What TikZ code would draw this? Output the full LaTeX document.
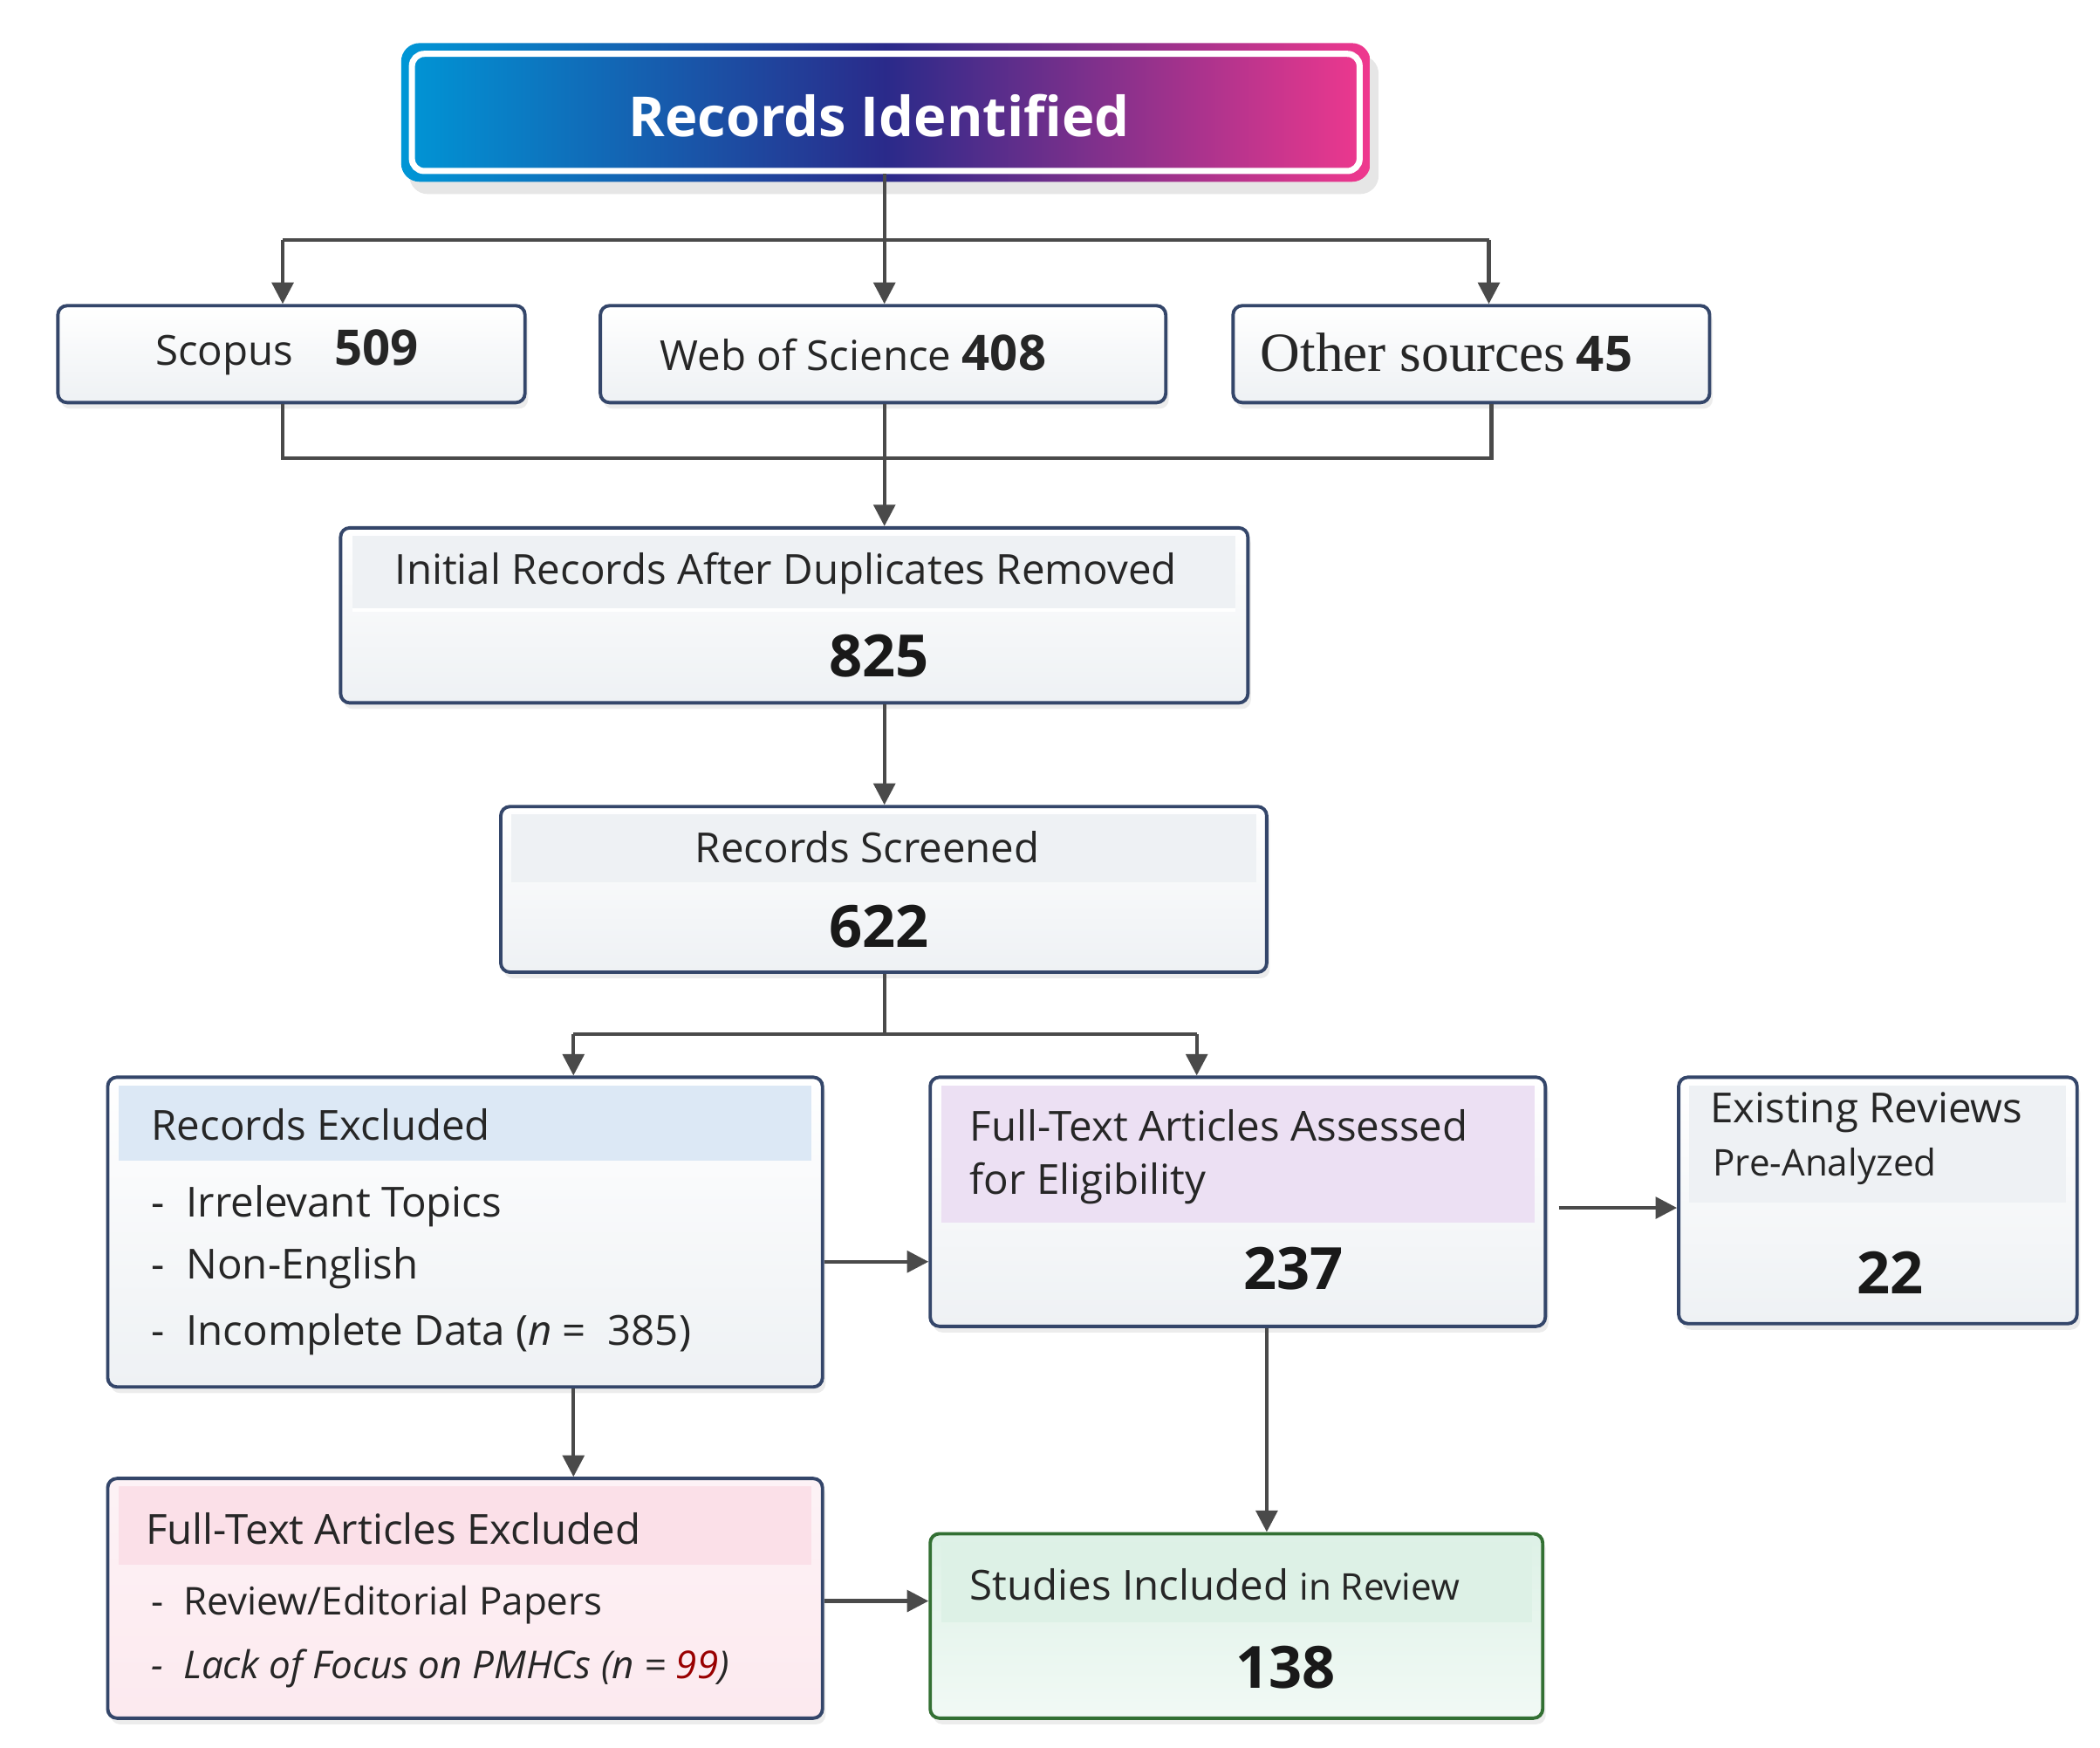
\documentclass[tikz,border=0pt]{standalone}
\usepackage{fontspec}
\setmainfont{Open Sans}
\usetikzlibrary{fit,arrows.meta,shadows}
\definecolor{edge}{HTML}{34466A}
\definecolor{ln}{HTML}{4A4A4A}
\definecolor{hb}{HTML}{DCE8F5}
\definecolor{hv}{HTML}{ECE0F3}
\definecolor{hp}{HTML}{FBE0E8}
\definecolor{hg}{HTML}{DDF1E6}
\definecolor{hw}{HTML}{EEF1F4}
\definecolor{gl}{HTML}{0096D6}
\definecolor{gm}{HTML}{2A2A8A}
\definecolor{gr}{HTML}{F0388E}
\begin{document}
\begin{tikzpicture}[x=0.01543cm,y=-0.01543cm,
 box/.style={draw=edge,line width=1.1pt,rounded corners=3pt,inner sep=0pt,
   top color=white,bottom color=hw,drop shadow={opacity=0.15,shadow xshift=1pt,shadow yshift=-2pt}},
 arr/.style={draw=ln,line width=1.2pt,-{Triangle[length=7pt,width=7pt]}},
 lin/.style={draw=ln,line width=1.2pt},
 lab/.style={font=\fontsize{13.5}{16}\selectfont,text=black!85,anchor=west,inner sep=0pt},
 num/.style={font=\fontsize{19}{22}\selectfont\bfseries,text=black!90,inner sep=0pt}]
\useasboundingbox (0,0) rectangle (1560,1298);
% title
\shade[left color=gl,right color=gr,middle color=gm,rounded corners=6pt,drop shadow={opacity=0.2,shadow yshift=-4pt}]
  (298,32) rectangle (1018,135);
\node[draw=white,line width=2pt,rounded corners=4pt,fit={(306,40) (1010,127)},inner sep=0pt] (title) {};
\node[font=\fontsize{18}{22}\selectfont\bfseries,text=white] at (653,86) {Records Identified};
% sources
\node[box,fit={(43,227) (390,299)}] (scopus) {};
\node[lab] at (115,262) {Scopus\quad{\fontsize{16}{18}\selectfont\textbf{509}}};
\node[box,fit={(446,227) (866,299)}] (wos) {};
\node[lab] at (490,262) {Web of Science {\fontsize{16}{18}\selectfont\textbf{408}}};
\node[box,fit={(916,227) (1270,299)}] (other) {};
\node[lab] at (936,262) {{\fontspec{Liberation Serif}\fontsize{18}{20}\selectfont Other sources} {\fontsize{16}{18}\selectfont\textbf{45}}};
% initial
\node[box,fit={(253,392) (927,522)}] (init) {};
\fill[hw] (262,398) rectangle (918,452);
\draw[white,line width=1pt] (262,453) -- (918,453);
\node[lab] at (293,426) {Initial Records After Duplicates Removed};
\node[num] at (653,487) {825};
% screened
\node[box,fit={(372,599) (941,722)}] (scr) {};
\fill[hw] (380,605) rectangle (933,655);
\node[lab] at (516,629) {Records Screened};
\node[num] at (653,688) {622};
% excluded
\node[box,fit={(80,800) (611,1030)}] (exc) {};
\fill[hb] (88,806) rectangle (603,862);
\node[lab] at (112,835) {Records Excluded};
\node[lab] at (112,896) {- \ Irrelevant Topics};
\node[lab] at (112,942) {- \ Non-English};
\node[lab] at (112,991) {- \ Incomplete Data (\textit{n} = \ 385)};
% assessed
\node[box,fit={(691,800) (1148,985)}] (ass) {};
\fill[hv] (699,806) rectangle (1140,908);
\node[lab] at (720,836) {Full-Text Articles Assessed};
\node[lab] at (720,879) {for Eligibility};
\node[num] at (961,942) {237};
% existing
\node[box,fit={(1247,800) (1543,983)}] (exi) {};
\fill[hw] (1255,806) rectangle (1535,893);
\node[lab] at (1270,826) {Existing Reviews};
\node[lab,font=\fontsize{12}{14}\selectfont] at (1272,866) {Pre-Analyzed};
\node[num] at (1404,945) {22};
% FT excluded
\node[box,fit={(80,1098) (611,1276)},top color=hp!40,bottom color=hp!70] (ftx) {};
\fill[hp] (88,1104) rectangle (603,1162);
\node[lab] at (108,1135) {Full-Text Articles Excluded};
\node[lab,font=\fontsize{12.5}{15}\selectfont] at (112,1192) {- \ Review/Editorial Papers};
\node[lab,font=\fontsize{12.5}{15}\selectfont\itshape] at (112,1239) {- \ Lack of Focus on PMHCs (\textit{n} = \textcolor{red!60!black}{99})};
% studies
\node[box,fit={(691,1139) (1146,1276)},draw=green!30!black!80,top color=hg,bottom color=hg!40] (stu) {};
\fill[hg] (699,1145) rectangle (1138,1205);
\node[lab] at (720,1177) {Studies Included {\fontsize{12}{14}\selectfont in Review}};
\node[num] at (955,1238) {138};
% connector coordinates
\coordinate (c) at (657,0);
\coordinate (l) at (210,0);
\coordinate (r) at (1106,0);
\coordinate (r2) at (1108,0);
\coordinate (bl) at (426,0);
\coordinate (br) at (889,0);
\coordinate (va) at (941,0);
\coordinate (h1) at (0,178);
\coordinate (h2) at (0,340);
\coordinate (h3) at (0,768);
\coordinate (h4) at (0,937);
\coordinate (h5) at (0,897);
\coordinate (h6) at (0,1189);
\coordinate (ae) at (1158,897);
\draw[lin] (c |- title.south) -- (c |- h1);
\draw[arr] (c |- h1) -- (c |- wos.north);
\draw[lin] (l |- h1) -- (r |- h1);
\draw[arr] (l |- h1) -- (l |- scopus.north);
\draw[arr] (r |- h1) -- (r |- other.north);
\draw[lin] (l |- scopus.south) -- (l |- h2) -- (r2 |- h2) -- (r2 |- other.south);
\draw[arr] (c |- wos.south) -- (c |- init.north);
\draw[arr] (c |- init.south) -- (c |- scr.north);
\draw[lin] (c |- scr.south) -- (c |- h3);
\draw[lin] (bl |- h3) -- (br |- h3);
\draw[arr] (bl |- h3) -- (bl |- exc.north);
\draw[arr] (br |- h3) -- (br |- ass.north);
\draw[arr] (exc.east |- h4) -- (ass.west |- h4);
\draw[arr] (ae) -- (exi.west |- h5);
\draw[arr] (va |- ass.south) -- (va |- stu.north);
\draw[arr] (bl |- exc.south) -- (bl |- ftx.north);
\draw[arr] (ftx.east |- h6) -- (stu.west |- h6);
\end{tikzpicture}
\end{document}
